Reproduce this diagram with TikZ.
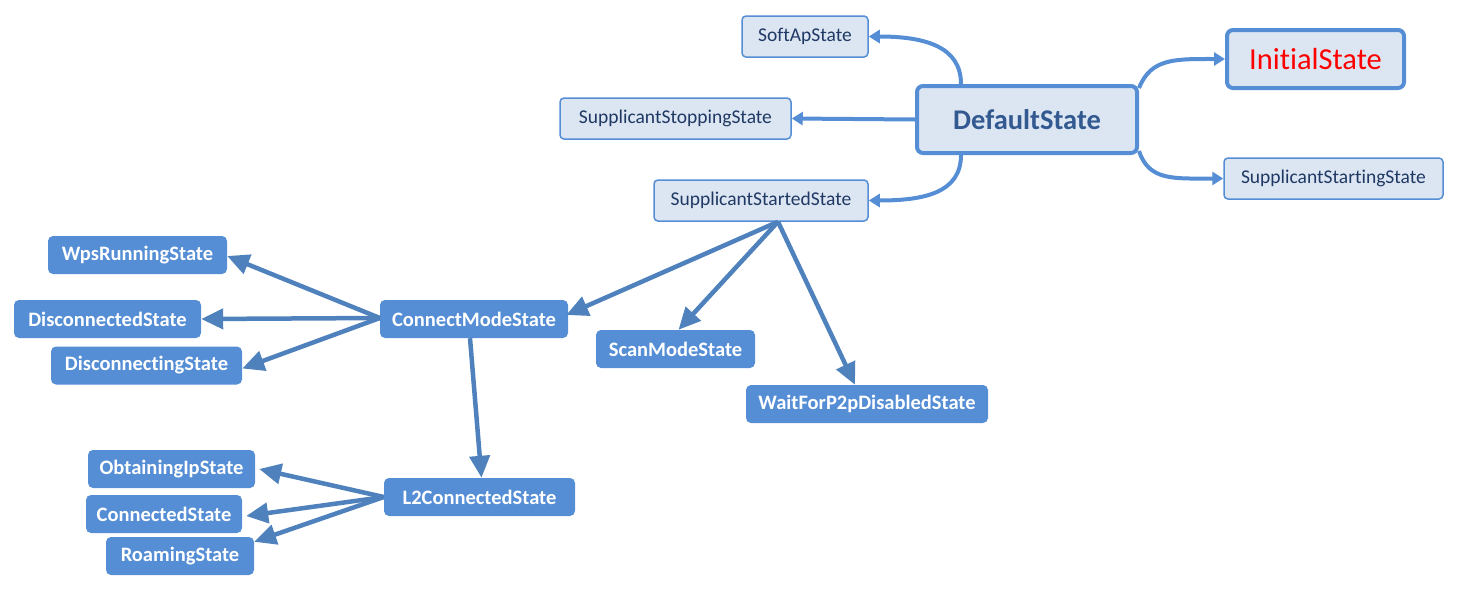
\documentclass[tikz,border=0pt]{standalone}
\usepackage{fontspec}
\setmainfont{Carlito}[Ligatures={NoCommon}]
\usetikzlibrary{arrows.meta}
\definecolor{lb}{RGB}{85,142,213}
\definecolor{lf}{RGB}{220,230,242}
\definecolor{lt}{RGB}{31,56,100}
\definecolor{dt}{RGB}{51,89,145}
\definecolor{db}{RGB}{85,142,213}
\definecolor{ac}{RGB}{79,129,189}
\definecolor{rt}{RGB}{255,0,0}
\tikzset{
  lightbox/.style={draw=lb, line width=1.5pt, fill=lf, rounded corners=4pt, text=lt,
    font=\fontsize{19.5}{23}\selectfont, inner sep=0pt},
  bigbox/.style={draw=lb, line width=4pt, fill=lf, rounded corners=6pt, inner sep=0pt},
  darkbox/.style={fill=db, rounded corners=5pt, text=white,
    font=\bfseries\fontsize{20.5}{24}\selectfont, inner sep=0pt},
  lcon/.style={draw=lb, line width=4pt, -{Triangle[length=11pt,width=13pt]}},
  dcon/.style={draw=ac, line width=4.5pt, -{Triangle[length=22pt,width=20pt]}},
}
\begin{document}
\begin{tikzpicture}[x=1pt,y=-1pt]
\useasboundingbox (0,0) rectangle (1460,592);
% light nodes
\node[lightbox, minimum width=126pt, minimum height=41pt] (soft) at (805,36.5) {SoftApState};
\node[lightbox, minimum width=231pt, minimum height=41pt] (stop) at (675.5,118.5) {SupplicantStoppingState};
\node[lightbox, minimum width=214pt, minimum height=41pt] (started) at (761,200.5) {SupplicantStartedState};
\node[lightbox, minimum width=219pt, minimum height=41pt] (starting) at (1333.5,178.5) {SupplicantStartingState};
\node[bigbox, minimum width=220pt, minimum height=67pt, text=dt,
  font=\bfseries\fontsize{28.5}{32}\selectfont] (def) at (1027,119.5) {DefaultState};
\node[bigbox, minimum width=177pt, minimum height=58pt, text=rt,
  font=\fontsize{30.5}{34}\selectfont] (init) at (1315.5,59) {InitialState};
% dark nodes
\node[darkbox, minimum width=179pt, minimum height=38pt] (wps) at (137.5,255) {WpsRunningState};
\node[darkbox, minimum width=187pt, minimum height=38pt] (disd) at (107.5,319) {DisconnectedState};
\node[darkbox, minimum width=191pt, minimum height=38pt] (disg) at (146.5,365.5) {DisconnectingState};
\node[darkbox, minimum width=188pt, minimum height=38pt] (cm) at (474,319) {ConnectModeState};
\node[darkbox, minimum width=159pt, minimum height=38pt] (scan) at (675.5,349) {ScanModeState};
\node[darkbox, minimum width=242pt, minimum height=38pt] (wait) at (867,404) {WaitForP2pDisabledState};
\node[darkbox, minimum width=167pt, minimum height=38pt] (obt) at (171.5,469) {ObtainingIpState};
\node[darkbox, minimum width=156pt, minimum height=38pt] (con) at (164,514) {ConnectedState};
\node[darkbox, minimum width=148pt, minimum height=38pt] (roam) at (180,556) {RoamingState};
\node[darkbox, minimum width=191pt, minimum height=38pt] (l2) at (479.5,497) {L2ConnectedState};
% light connectors
\draw[lcon] ([xshift=-66pt]def.north) .. controls +(0,-38) and +(55,0) .. (soft.east);
\draw[lcon] (def.west) -- (stop.east);
\draw[lcon] ([xshift=-66pt]def.south) .. controls +(0,38) and +(55,0) .. (started.east);
\draw[lcon] ([yshift=-4pt]def.north east) .. controls +(12,-30) and +(-50,0) .. (init.west);
\draw[lcon] ([yshift=4pt]def.south east) .. controls +(10,30) and +(-50,0) .. (starting.west);
% dark connectors
\draw[dcon] ([xshift=17pt]started.south) -- ([yshift=4pt,xshift=-2pt]cm.east);
\draw[dcon] ([xshift=17pt]started.south) -- ([xshift=3pt]scan.north);
\draw[dcon] ([xshift=17pt]started.south) -- ([xshift=-12pt]wait.north);
\draw[dcon] ([yshift=1pt]cm.west) -- ([yshift=-1pt]wps.east);
\draw[dcon] ([yshift=1pt]cm.west) -- (disd.east);
\draw[dcon] ([yshift=1pt]cm.west) -- ([yshift=-3pt]disg.east);
\draw[dcon] ([xshift=-4pt]cm.south) -- ([xshift=2pt]l2.north);
\draw[dcon] (l2.west) -- ([xshift=4pt]obt.east);
\draw[dcon] (l2.west) -- ([xshift=4pt,yshift=-2pt]con.east);
\draw[dcon] (l2.west) -- ([yshift=-5pt]roam.north east);
\end{tikzpicture}
\end{document}
